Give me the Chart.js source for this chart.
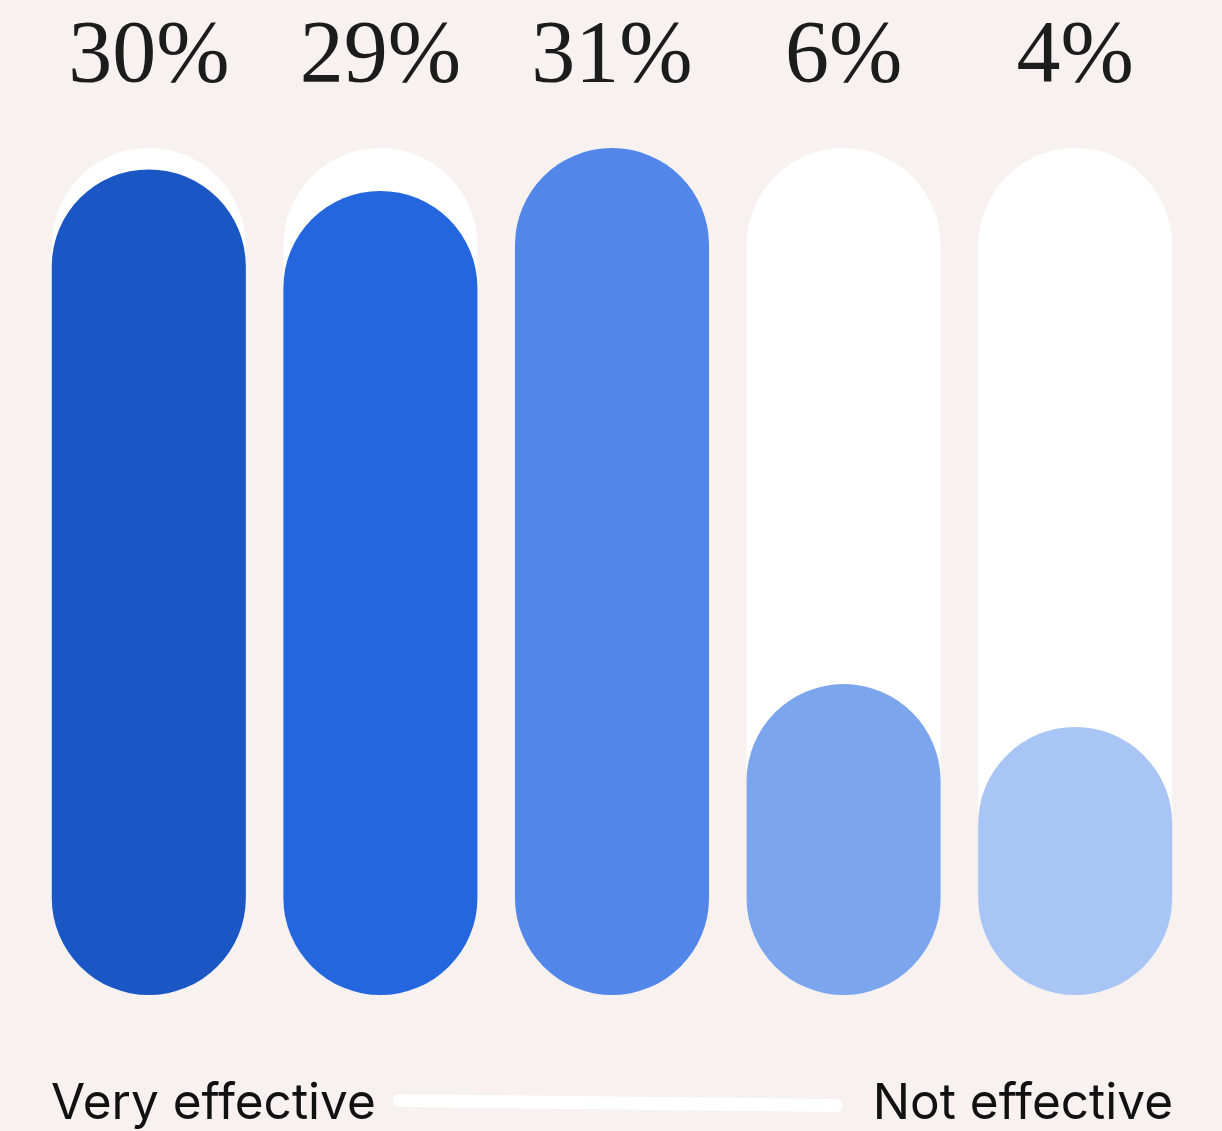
<!DOCTYPE html>
<html>
<head>
<meta charset="utf-8">
<script src="https://cdn.jsdelivr.net/npm/chart.js@4.4.1/dist/chart.umd.min.js"></script>
<style>
  html, body { margin: 0; padding: 0; background: #f7f1ef; }
  #wrap { width: 1222px; height: 1131px; position: relative; }
</style>
</head>
<body>
<div id="wrap"><canvas id="effectChart"></canvas></div>
<script>
// Survey answers, from "very effective" down to "not effective"
const categories = ['1', '2', '3', '4', '5'];
const shareValues = [30, 29, 31, 6, 4];
const trackValues = [31, 31, 31, 31, 31];
const barColors = ['#1b56c5', '#2466de', '#5286e8', '#7ba6ee', '#a8c5f6'];
const endLabels = ['Very effective', 'Not effective'];

const axisMin = -8.5;
const axisMax = 31;

// percent labels above each pill, plus the scale caption at the bottom
const labelPlugin = {
  id: 'pillLabels',
  afterDatasetsDraw(chart) {
    const ctx = chart.ctx;
    const meta = chart.getDatasetMeta(1);
    ctx.save();
    ctx.fillStyle = '#1c1c1c';
    ctx.font = '88px "Liberation Serif"';
    ctx.textAlign = 'center';
    ctx.textBaseline = 'alphabetic';
    meta.data.forEach((bar, i) => {
      ctx.fillText(shareValues[i] + '%', bar.x, 81);
    });

    ctx.fillStyle = '#111';
    ctx.font = '49.5px Inter';
    ctx.textAlign = 'left';
    ctx.fillText(endLabels[0], 51, 1119);
    ctx.textAlign = 'right';
    ctx.fillText(endLabels[1], 1173, 1119);

    // white stroke between the two captions
    ctx.strokeStyle = '#ffffff';
    ctx.lineWidth = 13;
    ctx.lineCap = 'round';
    ctx.beginPath();
    ctx.moveTo(399, 1100.5);
    ctx.lineTo(836, 1105.5);
    ctx.stroke();
    ctx.restore();
  }
};

new Chart(document.getElementById('effectChart'), {
  type: 'bar',
  data: {
    labels: categories,
    datasets: [{
      label: 'track',
      data: trackValues,
      backgroundColor: '#ffffff',
      base: axisMin,
      order: 2
    }, {
      label: 'share',
      data: shareValues,
      backgroundColor: barColors,
      base: axisMin,
      order: 1
    }]
  },
  options: {
    responsive: true,
    maintainAspectRatio: false,
    animation: false,
    layout: { padding: { left: 33, right: 31, top: 148, bottom: 136 } },
    datasets: {
      bar: {
        grouped: false,
        categoryPercentage: 1,
        barPercentage: 0.838,
        borderRadius: 999,
        borderSkipped: false
      }
    },
    scales: {
      x: { display: false },
      y: { display: false, min: axisMin, max: axisMax }
    },
    plugins: {
      legend: { display: false },
      tooltip: { enabled: false }
    }
  },
  plugins: [labelPlugin]
});
</script>
</body>
</html>
